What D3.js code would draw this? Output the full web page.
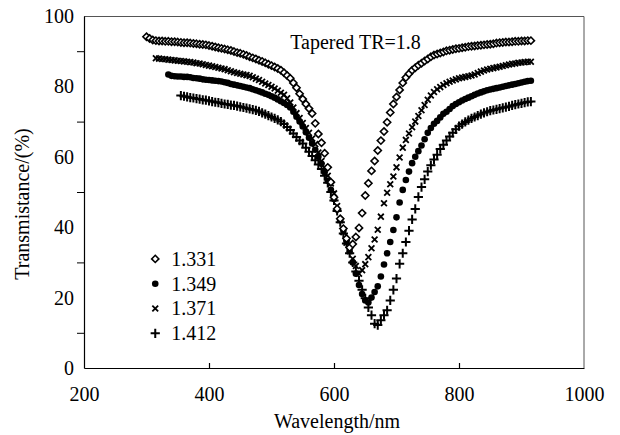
<!DOCTYPE html>
<html>
<head>
<meta charset="utf-8">
<script src="https://cdn.jsdelivr.net/npm/d3@7"></script>
<style>
  body { margin: 0; background: #fff; }
  svg { display: block; font-family: "Liberation Serif", "Times New Roman", serif; }
</style>
</head>
<body>
<svg width="620" height="435"></svg>
<script>
const svg = d3.select('svg');

// wavelength grid of the spectra, 5 nm step
const wavelengths = d3.range(300, 920, 5);

// each series starts at its own wavelength and runs to 915 nm
const start1331 = 300;
const t1331 = [94.1, 93.6, 93.2, 93.0, 92.9, 92.9, 92.8, 92.8, 92.7, 92.7,
  92.6, 92.5, 92.4, 92.4, 92.3, 92.2, 92.1, 92.0, 91.9, 91.8,
  91.6, 91.4, 91.2, 91.0, 90.8, 90.6, 90.4, 90.2, 89.9, 89.6,
  89.4, 89.1, 88.8, 88.4, 88.1, 87.8, 87.4, 87.1, 86.7, 86.3,
  85.9, 85.5, 85.1, 84.6, 83.9, 83.1, 82.3, 81.0, 79.6, 77.9,
  76.4, 75.0, 73.7, 72.3, 69.5, 66.5, 64.0, 61.0, 57.0, 52.8,
  48.5, 45.2, 42.4, 39.6, 36.8, 34.2, 35.2, 37.2, 39.8, 44.0,
  49.0, 52.5, 56.0, 58.8, 61.8, 64.6, 67.2, 69.8, 72.6, 75.0,
  77.0, 79.0, 81.0, 82.5, 83.6, 84.6, 85.3, 86.0, 86.6, 87.2,
  87.8, 88.4, 88.9, 89.2, 89.5, 89.8, 90.1, 90.3, 90.5, 90.7,
  90.8, 91.0, 91.1, 91.3, 91.4, 91.5, 91.6, 91.7, 91.8, 91.9,
  92.0, 92.1, 92.3, 92.4, 92.5, 92.6, 92.6, 92.7, 92.8, 92.8,
  92.9, 92.9, 93.0, 93.0];

const start1349 = 335;
const t1349 = [83.4, 83.0, 82.9, 82.8, 82.8, 82.7, 82.7, 82.6, 82.4, 82.3,
  82.2, 82.0, 81.9, 81.8, 81.7, 81.6, 81.5, 81.4, 81.2, 81.0,
  80.7, 80.5, 80.3, 80.1, 79.9, 79.7, 79.5, 79.2, 78.9, 78.6,
  78.3, 77.9, 77.6, 77.2, 76.8, 76.3, 75.8, 75.3, 74.7, 74.0,
  72.8, 71.4, 70.0, 68.6, 67.0, 65.4, 63.8, 62.0, 60.0, 58.0,
  55.6, 53.2, 50.6, 48.0, 45.0, 42.0, 39.0, 36.0, 33.2, 30.0,
  26.8, 23.6, 21.0, 19.2, 18.6, 20.0, 21.6, 23.2, 26.0, 29.4,
  32.6, 35.8, 39.2, 42.8, 47.0, 50.6, 53.4, 55.8, 58.2, 60.0,
  61.6, 63.2, 65.0, 66.8, 68.2, 69.4, 70.2, 71.2, 72.2, 72.8,
  73.6, 74.4, 75.0, 75.5, 76.0, 76.4, 76.8, 77.2, 77.6, 78.0,
  78.3, 78.6, 78.9, 79.1, 79.3, 79.5, 79.7, 79.9, 80.1, 80.3,
  80.5, 80.7, 80.9, 81.1, 81.3, 81.5, 81.6];

const start1371 = 315;
const t1371 = [88.0, 87.9, 87.8, 87.7, 87.6, 87.5, 87.4, 87.3, 87.2, 87.1,
  87.0, 86.9, 86.8, 86.6, 86.5, 86.3, 86.1, 85.9, 85.7, 85.5,
  85.3, 85.1, 84.9, 84.6, 84.3, 84.0, 83.8, 83.6, 83.4, 83.2,
  83.0, 82.6, 82.2, 81.8, 81.3, 80.8, 80.4, 79.9, 79.4, 78.8,
  78.2, 77.6, 76.6, 75.4, 74.0, 72.4, 71.0, 69.6, 68.2, 66.8,
  65.2, 63.6, 61.2, 58.8, 56.8, 54.6, 52.4, 49.6, 46.0, 42.0,
  38.6, 35.6, 33.2, 31.0, 29.0, 26.8, 27.8, 29.5, 31.5, 34.0,
  36.5, 39.3, 43.0, 46.8, 49.8, 52.2, 54.4, 57.0, 59.8, 62.6,
  64.8, 66.6, 68.4, 70.0, 71.6, 73.2, 74.7, 76.2, 77.4, 78.4,
  79.2, 79.8, 80.4, 80.9, 81.3, 81.7, 82.0, 82.3, 82.5, 82.7,
  82.9, 83.1, 83.4, 83.8, 84.2, 84.5, 84.8, 85.0, 85.2, 85.4,
  85.6, 85.8, 86.0, 86.2, 86.4, 86.5, 86.7, 86.8, 86.9, 87.0,
  87.0];

const start1412 = 355;
const t1412 = [77.4, 77.2, 77.0, 76.8, 76.7, 76.5, 76.4, 76.2, 76.1, 75.9,
  75.7, 75.5, 75.4, 75.2, 75.0, 74.9, 74.7, 74.6, 74.4, 74.2,
  74.0, 73.8, 73.6, 73.4, 73.2, 72.9, 72.5, 72.1, 71.7, 71.3,
  70.9, 70.5, 70.0, 69.3, 68.5, 67.6, 66.6, 65.6, 64.6, 63.8,
  62.6, 61.4, 60.2, 59.0, 57.8, 56.5, 54.6, 52.6, 50.0, 47.6,
  44.6, 41.4, 38.2, 35.4, 32.6, 30.0, 27.4, 24.8, 22.2, 19.8,
  17.2, 15.0, 12.6, 12.2, 13.6, 15.0, 16.4, 19.2, 22.2, 25.4,
  29.6, 32.6, 35.8, 39.0, 42.2, 45.2, 48.6, 51.4, 53.6, 55.8,
  57.6, 59.2, 60.6, 62.2, 63.4, 64.6, 65.8, 66.8, 67.8, 68.7,
  69.3, 69.9, 70.4, 70.9, 71.3, 71.7, 72.1, 72.5, 72.8, 73.1,
  73.3, 73.5, 73.7, 73.9, 74.1, 74.3, 74.6, 74.8, 75.0, 75.2,
  75.4, 75.6, 75.7];

const seriesNames = ["1.331", "1.349", "1.371", "1.412"];
const xTicks = [200, 400, 600, 800, 1000];
const yTicks = [0, 20, 40, 60, 80, 100];
const yMinorTicks = [10, 30, 50, 70, 90];
const xMinorTicks = [400, 600, 800];

// marker shapes
const markerPath = {
  "1.331": "M0,-3.6L3.6,0L0,3.6L-3.6,0Z",
  "1.349": "M3.3,0A3.3,3.3 0 1,1 -3.3,0A3.3,3.3 0 1,1 3.3,0Z",
  "1.371": "M-2.9,-2.9L2.9,2.9M-2.9,2.9L2.9,-2.9",
  "1.412": "M-4.6,0H4.6M0,-4.6V4.6"
};
const markerStyle = {
  "1.331": { fill: "#fff", stroke: "#000", sw: 1.6 },
  "1.349": { fill: "#000", stroke: "none", sw: 0 },
  "1.371": { fill: "none", stroke: "#000", sw: 1.8 },
  "1.412": { fill: "none", stroke: "#000", sw: 2 }
};

const toPoints = (startNm, values) => {
  const offset = wavelengths.indexOf(startNm);
  return values.map((v, i) => ({ x: wavelengths[offset + i], y: v }));
};

const series = [
  { name: "1.412", points: toPoints(start1412, t1412) },
  { name: "1.349", points: toPoints(start1349, t1349) },
  { name: "1.371", points: toPoints(start1371, t1371) },
  { name: "1.331", points: toPoints(start1331, t1331) }
];

const margin = { top: 16, right: 36, bottom: 67, left: 84 };
const innerWidth = 620 - margin.left - margin.right;
const innerHeight = 435 - margin.top - margin.bottom;

const xScale = d3.scaleLinear().domain([200, 1000]).range([0, innerWidth]);
const yScale = d3.scaleLinear().domain([0, 100]).range([innerHeight, 0]);

const g = svg.append('g')
  .attr('transform', `translate(${margin.left},${margin.top})`);

// frame (top and right)
g.append('path')
  .attr('d', `M0,0.5H${innerWidth}V${innerHeight}`)
  .attr('fill', 'none')
  .attr('stroke', '#555')
  .attr('stroke-width', 1);

// X axis
const xAxis = d3.axisBottom(xScale)
  .tickValues(xTicks)
  .tickSize(0)
  .tickPadding(19)
  .tickFormat(d3.format('d'));
const xAxisG = g.append('g')
  .attr('transform', `translate(0,${innerHeight})`)
  .call(xAxis);
xAxisG.select('.domain').attr('stroke', '#000').attr('stroke-width', 1.2);
xAxisG.selectAll('text')
  .attr('font-size', 20)
  .attr('font-family', 'Liberation Serif, serif')
  .attr('fill', '#000');

// inward ticks on the bottom axis
const xMinorAxis = d3.axisTop(xScale)
  .tickValues(xMinorTicks)
  .tickSize(5)
  .tickFormat('');
g.append('g')
  .attr('transform', `translate(0,${innerHeight})`)
  .call(xMinorAxis)
  .call(a => a.select('.domain').remove())
  .selectAll('line').attr('stroke', '#000').attr('stroke-width', 1.2);

// Y axis
const yAxis = d3.axisLeft(yScale)
  .tickValues(yTicks)
  .tickSize(0)
  .tickPadding(10);
const yAxisG = g.append('g').call(yAxis);
yAxisG.select('.domain').attr('stroke', '#000').attr('stroke-width', 1.2);
yAxisG.selectAll('text')
  .attr('font-size', 20)
  .attr('font-family', 'Liberation Serif, serif')
  .attr('fill', '#000');

// outward minor ticks on the left axis
const yMinorAxis = d3.axisLeft(yScale)
  .tickValues(yMinorTicks)
  .tickSize(7)
  .tickFormat('');
g.append('g')
  .call(yMinorAxis)
  .call(a => a.select('.domain').remove())
  .selectAll('line').attr('stroke', '#000').attr('stroke-width', 1);

// axis labels
svg.append('text')
  .attr('x', margin.left + innerWidth / 2 + 3)
  .attr('y', 428)
  .attr('text-anchor', 'middle')
  .attr('font-size', 20)
  .text('Wavelength/nm');

svg.append('text')
  .attr('transform', `translate(29,${margin.top + innerHeight / 2 + 12}) rotate(-90)`)
  .attr('text-anchor', 'middle')
  .attr('font-size', 20)
  .text('Transmistance/(%)');

// annotation
g.append('text')
  .attr('x', xScale(530))
  .attr('y', yScale(90.5))
  .attr('font-size', 20)
  .text('Tapered TR=1.8');

// data points
series.forEach(s => {
  const st = markerStyle[s.name];
  g.append('g')
    .selectAll('path')
    .data(s.points)
    .enter().append('path')
    .attr('transform', d => `translate(${xScale(d.x)},${yScale(d.y)})`)
    .attr('d', markerPath[s.name])
    .attr('fill', st.fill)
    .attr('stroke', st.stroke)
    .attr('stroke-width', st.sw);
});

// legend
const legend = g.append('g')
  .attr('transform', `translate(${xScale(314)},${yScale(31)})`);
const legendItem = legend.selectAll('g')
  .data(seriesNames)
  .enter().append('g')
  .attr('transform', (d, i) => `translate(0,${i * 24.8})`);
legendItem.append('path')
  .attr('d', d => markerPath[d])
  .attr('fill', d => markerStyle[d].fill)
  .attr('stroke', d => markerStyle[d].stroke)
  .attr('stroke-width', d => markerStyle[d].sw);
legendItem.append('text')
  .attr('x', 16)
  .attr('y', 7)
  .attr('font-size', 20)
  .text(d => d);
</script>
</body>
</html>
